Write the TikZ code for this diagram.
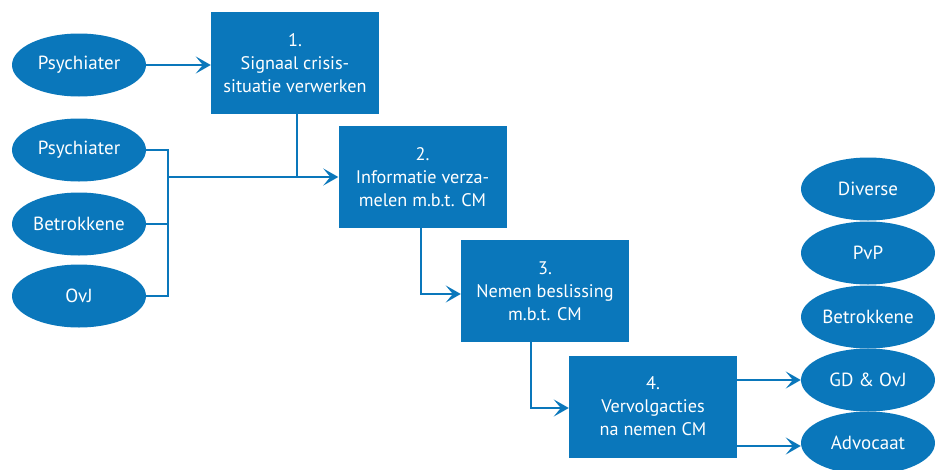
\documentclass[tikz,border=0pt]{standalone}
\usepackage{fontspec}
\setmainfont{PT Sans}
\usetikzlibrary{arrows.meta,shapes.geometric}
\definecolor{cmblue}{HTML}{0A77BB}
\tikzset{
  stepbox/.style={fill=cmblue, text=white, minimum width=168pt, minimum height=102pt, align=center, inner sep=0pt, font=\fontsize{18.2}{23}\selectfont},
  actor/.style={ellipse, fill=cmblue, text=white, minimum width=134pt, minimum height=63pt, inner sep=0pt, font=\fontsize{19}{22}\selectfont},
  link/.style={draw=cmblue, line width=1.8pt},
  arr/.style={link, -{Stealth[length=15pt, width=17pt, inset=7pt]}}
}
\begin{document}
\begin{tikzpicture}[x=1pt, y=-1pt]
\useasboundingbox (0,0) rectangle (935,469);
\clip (0,0) rectangle (935,469);
% boxes
\node[stepbox] (b1) at (295,63) {1.\\Signaal crisis-\\situatie verwerken};
\node[stepbox] (b2) at (422.5,177) {2.\\Informatie verza-\\melen m.b.t. CM};
\node[stepbox] (b3) at (545,291) {3.\\Nemen beslissing\\m.b.t. CM};
\node[stepbox] (b4) at (653,406.5) {4.\\Vervolgacties\\na nemen CM};
% left actors
\node[actor] (p1) at (79,65) {Psychiater};
\node[actor] (p2) at (79,150) {Psychiater};
\node[actor] (be) at (79,224) {Betrokkene};
\node[actor] (ov) at (79,296) {OvJ};
% right actors
\node[actor] (di) at (868,189) {Diverse};
\node[actor] (pv) at (868,253) {PvP};
\node[actor] (br) at (868,317) {Betrokkene};
\node[actor] (gd) at (868,380) {GD \& OvJ};
\node[actor] (ad) at (868,443) {Advocaat};
% coordinates
\coordinate (j) at (168,177);
\coordinate (k) at (297,177);
% connectors
\draw[arr] (p1.east) -- (b1.west |- p1.east);
\draw[link] (p2.east) -- (168,150) -- (168,296) -- (ov.east);
\draw[link] (be.east) -- (168,224);
\draw[arr] (j) -- (b2.west |- j);
\draw[link] (b1.south -| k) -- (k);
\draw[arr] (b2.south -| 421,0) |- (b3.west |- 0,294);
\draw[arr] (b3.south -| 531,0) |- (b4.west |- 0,408);
\draw[arr] (b4.east |- 0,380) -- (gd.west);
\draw[arr] (b4.east |- 0,446) -- (ad.west |- 0,446);
\end{tikzpicture}
\end{document}
